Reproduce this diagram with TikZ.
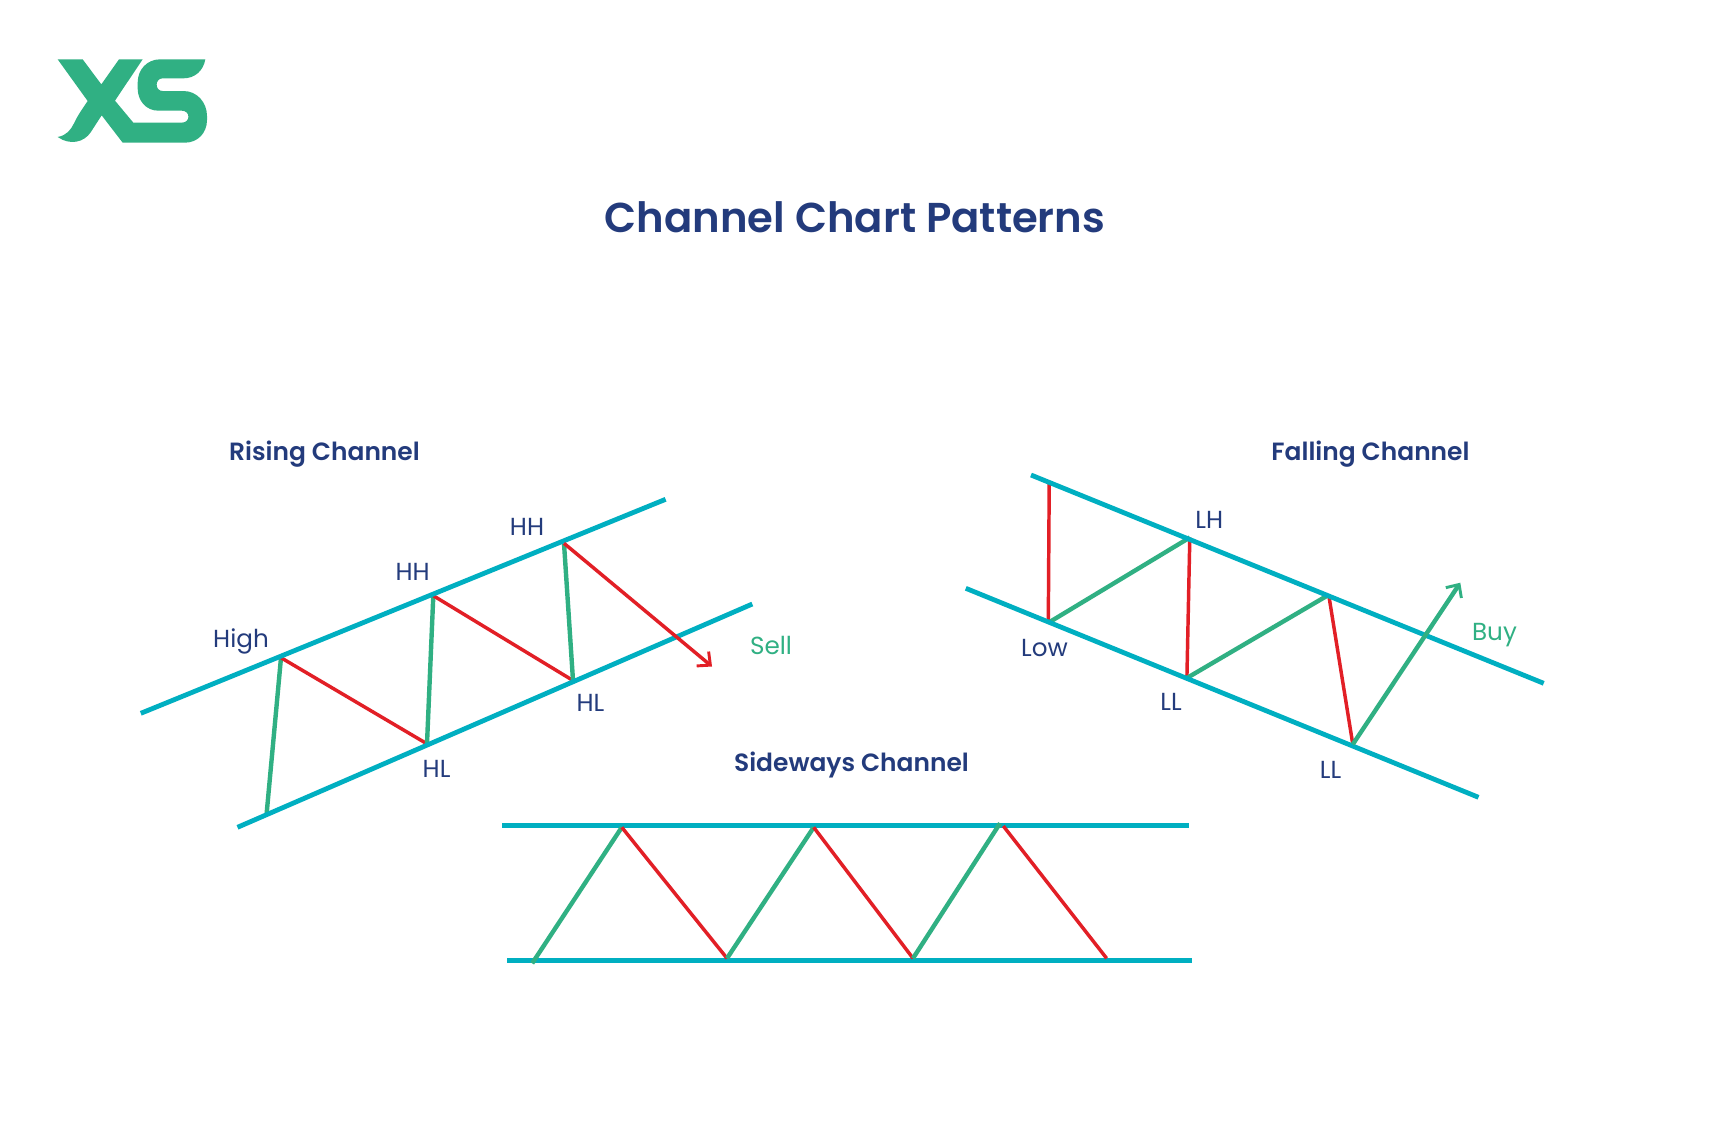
\documentclass[tikz,border=0pt]{standalone}
\usepackage{fontspec}
\setmainfont{Poppins}[BoldFont={Poppins SemiBold}]
\usetikzlibrary{arrows.meta}
\definecolor{navy}{HTML}{233B7C}
\definecolor{xsgreen}{HTML}{30B083}
\definecolor{chan}{HTML}{00AFC1}
\definecolor{redl}{HTML}{E21F26}
\tikzset{
  chanline/.style={draw=chan,line width=3.6pt},
  upl/.style={draw=xsgreen,line width=3.3pt},
  downl/.style={draw=redl,line width=2.6pt},
  lab/.style={text=navy,font=\fontsize{18.5}{21}\selectfont,inner sep=0pt},
  sig/.style={text=xsgreen,font=\fontsize{18.5}{21}\selectfont,inner sep=0pt},
  head/.style={text=navy,font=\bfseries\fontsize{18.7}{22}\selectfont,inner sep=0pt},
  barb/.style={-{Straight Barb[length=7.5pt,width=14pt,line width=2.2pt]}}
}
\begin{document}
\begin{tikzpicture}[x=0.75pt,y=-0.75pt]
\useasboundingbox (0,0) rectangle (1709,1125);
\fill[white] (0,0) rectangle (1709,1125);
% logo
\begin{scope}[shift={(40,40)},x=0.25pt,y=-0.25pt]
\fill[xsgreen] (53,58) -- (128,58) -- (184,133) -- (237,58) -- (308,58) -- (225,182) -- (280,248) -- (425,248)
 .. controls (452,248) and (452,212) .. (425,212) -- (355,212)
 .. controls (318,212) and (293,182) .. (293,145) -- (293,128)
 .. controls (293,88) and (322,58) .. (360,58) -- (496,58)
 .. controls (490,92) and (465,115) .. (430,115) -- (368,115)
 .. controls (344,115) and (344,153) .. (368,153) -- (430,153)
 .. controls (472,153) and (501,188) .. (501,228) -- (501,240)
 .. controls (501,280) and (472,308) .. (435,308) -- (248,308) -- (185,226) -- (152,277)
 .. controls (132,307) and (90,317) .. (53,291)
 .. controls (80,286) and (92,270) .. (102,250) .. controls (112,228) and (128,205) .. (143,183) -- cycle;
\end{scope}
\node[text=navy,font=\bfseries\fontsize{31.3}{36}\selectfont,inner sep=0pt] (title) at (855,217) {Channel Chart Patterns};
\node[head] (rch) at (324.5,453.8) {Rising Channel};
\node[head] (fch) at (1370.5,453.8) {Falling Channel};
\node[head] (sch) at (851.5,764.8) {Sideways Channel};
% rising
\coordinate (ra) at (140.8,713.3);\coordinate (rb) at (665.6,499.3);
\coordinate (rc) at (237.5,827.3);\coordinate (rd) at (752.3,604);
\coordinate (r0) at (266.6,814);\coordinate (r1) at (281,657.7);
\coordinate (r2) at (427,743.8);\coordinate (r3) at (433.3,595.7);
\coordinate (r4) at (573,680.5);\coordinate (r5) at (564,543.3);
\coordinate (r6) at (712,666.5);
\draw[upl] (r0)--(r1);\draw[downl] (r1)--(r2);\draw[upl] (r2)--(r3);\draw[downl] (r3)--(r4);\draw[upl] (r4)--(r5);
\draw[chanline] (ra)--(rb);\draw[chanline] (rc)--(rd);
\draw[downl,barb] (r5)--(r6);
\node[lab] (l1) at (241,641) {High};
\node[lab] (l2) at (412.7,572) {HH};
\node[lab] (l3) at (527,527) {HH};
\node[lab] (l4) at (590.5,703) {HL};
\node[lab] (l5) at (436.6,769) {HL};
\node[sig] (l6) at (771,645) {Sell};
% falling
\coordinate (fa) at (1031,475);\coordinate (fb) at (1543.7,683.3);
\coordinate (fc) at (965.8,588.3);\coordinate (fd) at (1478.5,797.3);
\coordinate (f0) at (1049.2,484);\coordinate (f1) at (1048.3,622.8);
\coordinate (f2) at (1189.8,537.5);\coordinate (f3) at (1186.9,678);
\coordinate (f4) at (1328.7,594.8);\coordinate (f5) at (1352.8,744.3);
\coordinate (f6) at (1460.3,582.7);
\draw[downl] (f0)--(f1);\draw[upl] (f1)--(f2);\draw[downl] (f2)--(f3);\draw[upl] (f3)--(f4);\draw[downl] (f4)--(f5);
\draw[chanline] (fa)--(fb);\draw[chanline] (fc)--(fd);
\draw[upl,barb] (f5)--(f6);
\node[lab] (m1) at (1209.3,519.5) {LH};
\node[lab] (m2) at (1044.5,647.8) {Low};
\node[lab] (m3) at (1171,702) {LL};
\node[lab] (m4) at (1330.6,769.5) {LL};
\node[sig] (m5) at (1494.5,635) {Buy};
% sideways
\coordinate (sa) at (502.4,825.4);\coordinate (sb) at (1188.8,825.4);
\coordinate (sc) at (507,960.6);\coordinate (sd) at (1191.6,960.6);
\coordinate (s0) at (532.2,963.3);\coordinate (s1) at (621.8,827.3);
\coordinate (s2) at (727,958.3);\coordinate (s3) at (813.7,827.3);
\coordinate (s4) at (913,958.3);\coordinate (s5) at (1000,823.3);
\coordinate (s6) at (1003.3,826);\coordinate (s7) at (1106.6,958.3);
\draw[chanline] (sa)--(sb);\draw[chanline] (sc)--(sd);
\draw[upl] (s0)--(s1);\draw[downl] (s1)--(s2);\draw[upl] (s2)--(s3);\draw[downl] (s3)--(s4);\draw[upl] (s4)--(s5);\draw[downl] (s6)--(s7);
\end{tikzpicture}
\end{document}
